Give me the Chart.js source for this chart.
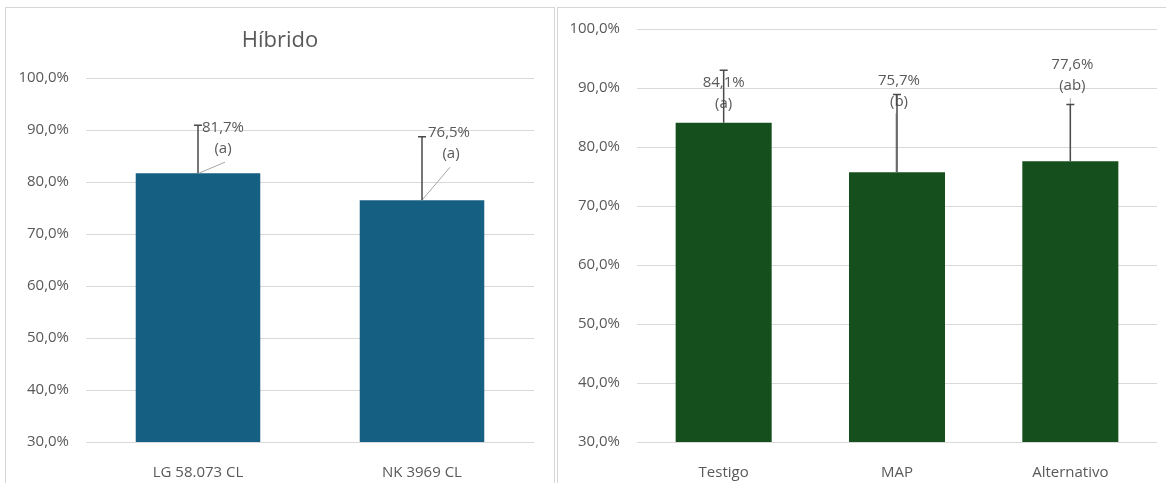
<!DOCTYPE html>
<html>
<head>
<meta charset="utf-8">
<script src="https://cdn.jsdelivr.net/npm/chart.js@4.4.1/dist/chart.umd.min.js"></script>
<style>
  html, body { margin: 0; padding: 0; background: #fff; width: 1166px; height: 483px; overflow: hidden; }
  .panel { position: absolute; border: 1px solid #d6d6d6; box-sizing: border-box; background: #fff; }
  #p1 { left: 5px; top: 7px; width: 550px; height: 500px; }
  #p2 { left: 557px; top: 7px; width: 620px; height: 500px; }
  canvas { position: absolute; left: 0; top: 0; }
</style>
</head>
<body>
<div class="panel" id="p1"><canvas id="c1" width="548" height="475"></canvas></div>
<div class="panel" id="p2"><canvas id="c2" width="608" height="475"></canvas></div>
<script>
// Germination / emergence (%) by hybrid
const hybridCategories = ['LG 58.073 CL', 'NK 3969 CL'];
const hybridValues = [81.7, 76.5];
const hybridErrors = [9.2, 12.2];          // upper error (percentage points)
const hybridLetters = ['(a)', '(a)'];

// Same variable by treatment
const treatmentCategories = ['Testigo', 'MAP', 'Alternativo'];
const treatmentValues = [84.1, 75.7, 77.6];
const treatmentErrors = [8.9, 13.2, 9.6];
const treatmentLetters = ['(a)', '(b)', '(ab)'];

// Value axis ticks
const yTicks = [30, 40, 50, 60, 70, 80, 90, 100];

const FONT = '"Open Sans", "Liberation Sans", sans-serif';
const TEXT = '#595959';
const GRID = '#d9d9d9';

const fmtPct = v => v.toFixed(1).replace('.', ',') + '%';

// Panel heading, centred on the whole panel
const headingPlugin = {
  id: 'heading',
  afterDraw(chart, args, opts) {
    if (!opts.text) return;
    const ctx = chart.ctx;
    ctx.save();
    ctx.fillStyle = TEXT;
    ctx.font = '22px ' + FONT;
    ctx.textAlign = 'center';
    ctx.textBaseline = 'middle';
    ctx.fillText(opts.text, chart.width / 2, 33);
    ctx.restore();
  }
};

// Draws upper error bars, leader lines and two-line value labels
const annotatePlugin = {
  id: 'annotate',
  afterDatasetsDraw(chart, args, opts) {
    const ctx = chart.ctx;
    const meta = chart.getDatasetMeta(0);
    const yScale = chart.scales.y;
    const ds = chart.data.datasets[0];
    ctx.save();
    meta.data.forEach((bar, i) => {
      const v = ds.data[i];
      const x = bar.x, yTop = bar.y;
      const place = opts.placement[i];
      // leader line
      if (place.lead) {
        ctx.strokeStyle = '#a6a6a6';
        ctx.lineWidth = 1;
        ctx.beginPath();
        ctx.moveTo(x + place.leadStart, yTop);
        ctx.lineTo(x + place.lead[0], yTop + place.lead[1]);
        ctx.stroke();
      }
      // labels
      ctx.fillStyle = TEXT;
      ctx.font = '15px ' + FONT;
      ctx.textAlign = 'center';
      ctx.textBaseline = 'middle';
      ctx.fillText(fmtPct(v), x + place.dx, yTop + place.dy);
      ctx.fillText(opts.letters[i], x + place.dx2, yTop + place.dy + 21);
      // error bar (upper only)
      const yErr = yScale.getPixelForValue(v + opts.errors[i]);
      ctx.strokeStyle = '#4a4a4a';
      ctx.lineWidth = 1.5;
      ctx.beginPath();
      ctx.moveTo(x, yTop);
      ctx.lineTo(x, yErr);
      ctx.moveTo(x - 4, yErr);
      ctx.lineTo(x + 4, yErr);
      ctx.stroke();
    });
    ctx.restore();
  }
};

function makeChart(id, cats, vals, color, cfg) {
  return new Chart(document.getElementById(id), {
    type: 'bar',
    data: {
      labels: cats,
      datasets: [{
        data: vals,
        backgroundColor: color,
        borderWidth: 0,
        barPercentage: cfg.barPct,
        categoryPercentage: 1
      }]
    },
    options: {
      responsive: false,
      animation: false,
      devicePixelRatio: 1,
      layout: { padding: cfg.padding },
      plugins: {
        legend: { display: false },
        tooltip: { enabled: false },
        title: { display: false },
        heading: { text: cfg.heading },
        annotate: cfg.annotate
      },
      scales: {
        x: {
          grid: { display: false },
          border: { display: false },
          ticks: { color: TEXT, font: { family: FONT, size: 15 }, padding: 14 },
          afterFit: s => { s.height = 41; }
        },
        y: {
          min: 30,
          max: 100,
          afterBuildTicks: s => { s.ticks = yTicks.map(v => ({ value: v })); },
          grid: { color: GRID, lineWidth: 1, drawTicks: false },
          border: { display: false },
          ticks: { color: TEXT, font: { family: FONT, size: 15 }, padding: 17, callback: v => fmtPct(v) },
          afterFit: s => {
            s.width = cfg.yWidth;
            s.paddingTop = 0;
            s.paddingBottom = 0;
          }
        }
      }
    },
    plugins: [annotatePlugin, headingPlugin]
  });
}

makeChart('c1', hybridCategories, hybridValues, '#156082', {
  barPct: 0.556,
  yWidth: 80,
  padding: { top: 70, right: 20, left: 0, bottom: 0 },
  heading: 'Híbrido',
  annotate: {
    errors: hybridErrors,
    letters: hybridLetters,
    placement: [
      { dx: 25, dx2: 25, dy: -45, leadStart: 1, lead: [27, -11] },
      { dx: 27, dx2: 29, dy: -67, leadStart: 0, lead: [28, -33] }
    ]
  }
});

makeChart('c2', treatmentCategories, treatmentValues, '#144F1D', {
  barPct: 0.554,
  yWidth: 79,
  padding: { top: 21, right: 9, left: 0, bottom: 0 },
  heading: '',
  annotate: {
    errors: treatmentErrors,
    letters: treatmentLetters,
    placement: [
      { dx: 0, dx2: 0, dy: -40, leadStart: 0, lead: null },
      { dx: 2, dx2: 2, dy: -92, leadStart: -1, lead: [-1, -59] },
      { dx: 2, dx2: 2, dy: -96, leadStart: 0, lead: [0, -63] }
    ]
  }
});
</script>
</body>
</html>
